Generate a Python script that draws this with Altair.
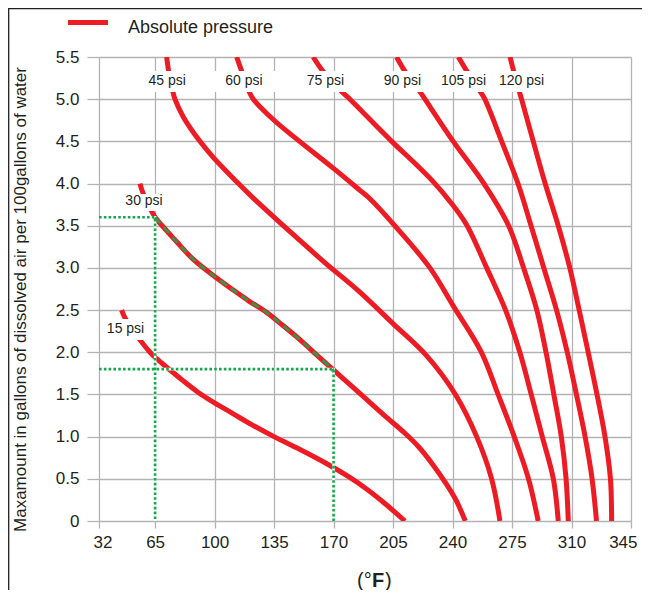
import altair as alt
import pandas as pd

RED = "#ed1c24"
GRID = "#b3b3b6"
INK = "#231f20"
FONT = "Liberation Sans, Arial, sans-serif"

# ---- curve data: temperature (°F) vs max dissolved air (gal / 100 gal water)
t15 = [45.3, 47.5, 56.0, 62.0, 65.5, 72.0, 81.0, 90.0, 100.0, 111.0, 122.0, 135.0, 150.0, 165.0, 180.0, 190.0, 200.0, 212.0]
v15 = [2.5, 2.4, 2.15, 2.0, 1.93, 1.82, 1.67, 1.53, 1.4, 1.27, 1.14, 1.0, 0.85, 0.69, 0.51, 0.37, 0.21, 0.0]

t30 = [56.1, 58.0, 63.0, 65.0, 77.7, 87.0, 97.3, 110.8, 120.0, 130.8, 140.0, 150.2, 160.0, 170.0, 180.0, 190.0, 200.0, 212.0, 220.0, 228.0, 236.0, 242.0, 247.5]
v30 = [4.0, 3.88, 3.67, 3.6, 3.31, 3.11, 2.94, 2.74, 2.61, 2.47, 2.32, 2.15, 1.97, 1.79, 1.61, 1.43, 1.25, 1.04, 0.88, 0.68, 0.45, 0.25, 0.0]

t45 = [71.8, 73.0, 75.7, 76.7, 81.6, 91.4, 99.2, 113.0, 122.6, 136.7, 150.0, 165.0, 184.5, 205.0, 224.7, 241.7, 254.2, 263.0, 267.9]
v45 = [5.5, 5.33, 5.07, 5.0, 4.79, 4.5, 4.31, 4.02, 3.83, 3.57, 3.33, 3.06, 2.73, 2.34, 1.96, 1.5, 1.0, 0.5, 0.0]

t60 = [113.0, 116.0, 120.8, 122.8, 135.0, 150.0, 170.0, 185.5, 191.4, 206.0, 226.7, 240.4, 257.0, 266.8, 276.3, 284.7, 290.4]
v60 = [5.5, 5.33, 5.07, 5.0, 4.75, 4.5, 4.18, 3.92, 3.82, 3.5, 3.0, 2.55, 2.0, 1.5, 1.0, 0.5, 0.0]

t75 = [158.0, 163.8, 174.7, 179.6, 185.5, 204.2, 218.9, 228.7, 238.0, 248.0, 260.1, 271.2, 279.6, 286.3, 292.8, 299.3, 302.2]
v75 = [5.5, 5.33, 5.09, 5.0, 4.88, 4.5, 4.22, 4.02, 3.8, 3.52, 3.0, 2.5, 2.0, 1.5, 1.0, 0.5, 0.0]

t90 = [207.1, 212.0, 220.8, 223.8, 240.4, 258.5, 273.0, 281.8, 289.6, 295.0, 299.6, 304.0, 306.8, 308.1]
v90 = [5.5, 5.33, 5.09, 5.0, 4.5, 4.0, 3.5, 3.0, 2.5, 2.0, 1.5, 1.0, 0.5, 0.0]

t105 = [243.4, 248.5, 256.3, 259.0, 268.9, 278.5, 286.2, 293.7, 301.2, 307.5, 312.9, 318.0, 322.1, 324.7]
v105 = [5.5, 5.33, 5.09, 5.0, 4.5, 4.0, 3.5, 3.0, 2.5, 2.0, 1.5, 1.0, 0.5, 0.0]

t120 = [273.8, 276.0, 279.6, 280.6, 287.5, 294.5, 302.2, 309.0, 314.5, 319.8, 325.0, 329.7, 332.9, 333.6]
v120 = [5.5, 5.33, 5.07, 5.0, 4.5, 4.0, 3.5, 3.0, 2.5, 2.0, 1.5, 1.0, 0.5, 0.0]

curve_names = ["15 psi", "30 psi", "45 psi", "60 psi", "75 psi", "90 psi", "105 psi", "120 psi"]
curve_t = [t15, t30, t45, t60, t75, t90, t105, t120]
curve_v = [v15, v30, v45, v60, v75, v90, v105, v120]

# curve labels (data coordinates)
label_names = ["45 psi", "60 psi", "75 psi", "90 psi", "105 psi", "120 psi", "30 psi", "15 psi"]
label_t = [72.1, 117.3, 165.2, 210.5, 246.5, 280.6, 58.5, 47.6]
label_v = [5.21, 5.21, 5.21, 5.21, 5.21, 5.21, 3.79, 2.27]

# white boxes behind labels
box_t0 = [60.8, 47.3, 36.1]
box_t1 = [296.1, 69.6, 59.6]
box_v0 = [5.085, 3.675, 2.146]
box_v1 = [5.334, 3.876, 2.394]

# green reading guides
guide_a_t = [32, 65, 65]
guide_a_v = [3.6, 3.6, 0.0]
guide_b_t = [32, 170, 170]
guide_b_v = [1.8, 1.8, 0.0]
highlight_range = [65, 170]

x_ticks = [32, 65, 100, 135, 170, 205, 240, 275, 310, 345]
y_ticks = [0, 0.5, 1.0, 1.5, 2.0, 2.5, 3.0, 3.5, 4.0, 4.5, 5.0, 5.5]

y_title = "Maxamount in gallons of dissolved air per 100gallons of water"
legend_text = "Absolute pressure"

# ---- build tables
rows = []
for name, ts, vs in zip(curve_names, curve_t, curve_v):
    for i, (t, v) in enumerate(zip(ts, vs)):
        rows.append({"curve": name, "i": i, "T": t, "v": v})
curves_df = pd.DataFrame(rows)
hl_df = curves_df[(curves_df.curve == "30 psi") & (curves_df["T"] >= highlight_range[0]) & (curves_df["T"] <= highlight_range[1])]

grows = []
for name, ts, vs in [("a", guide_a_t, guide_a_v), ("b", guide_b_t, guide_b_v)]:
    for i, (t, v) in enumerate(zip(ts, vs)):
        grows.append({"g": name, "i": i, "T": t, "v": v})
guides_df = pd.DataFrame(grows)

labels_df = pd.DataFrame({"label": label_names, "T": label_t, "v": label_v})
boxes_df = pd.DataFrame({"T": box_t0, "T2": box_t1, "v": box_v0, "v2": box_v1})
one = pd.DataFrame({"a": [0]})

xscale = alt.Scale(domain=[32, 345], nice=False, zero=False)
yscale = alt.Scale(domain=[0, 5.5], nice=False, zero=False)

xaxis = alt.Axis(values=x_ticks, grid=True, gridColor=GRID, gridWidth=1.3, domain=False,
                 ticks=True, tickColor=GRID, tickWidth=1.3, tickSize=7,
                 labelFont=FONT, labelFontSize=17, labelColor=INK, labelPadding=6,
                 labelFlush=True, labelFlushOffset=6,
                 title=None)
yaxis = alt.Axis(values=y_ticks, grid=True, gridColor=GRID, gridWidth=1.3, domain=False,
                 ticks=True, tickColor=GRID, tickWidth=1.3, tickSize=12,
                 labelFont=FONT, labelFontSize=17, labelColor=INK, labelPadding=8,
                 labelExpr="datum.value == 0 ? '0' : format(datum.value, '.1f')",
                 title=y_title, titleFont=FONT, titleFontSize=17, titleFontWeight="normal",
                 titleColor=INK, titleAngle=270, titleX=-79, titleY=242,
                 titleAlign="center", titleBaseline="middle")

X = alt.X("T:Q", scale=xscale, axis=xaxis)
Y = alt.Y("v:Q", scale=yscale, axis=yaxis)

lines = alt.Chart(curves_df).mark_line(color=RED, strokeWidth=5, interpolate="catmull-rom",
                                       clip=True, strokeCap="butt").encode(
    x=X, y=Y, detail="curve:N", order="i:Q")

guide_under = alt.Chart(guides_df).mark_line(color="white", strokeWidth=2.6).encode(
    x=X, y=Y, detail="g:N", order="i:Q")
guide = alt.Chart(guides_df).mark_line(color="#13a84b", strokeWidth=2.6,
                                       strokeDash=[2.6, 2.2]).encode(
    x=X, y=Y, detail="g:N", order="i:Q")
hl = alt.Chart(hl_df).mark_line(color="#2f9a47", strokeWidth=2.6, interpolate="catmull-rom",
                                strokeDash=[8, 5]).encode(x=X, y=Y, order="i:Q")

boxes = alt.Chart(boxes_df).mark_rect(color="white").encode(
    x=X, x2="T2:Q", y=Y, y2="v2:Q")

labels = alt.Chart(labels_df).mark_text(font=FONT, fontSize=14, color=INK,
                                        align="center", baseline="middle").encode(
    x=X, y=Y, text="label:N")

legend_line = alt.Chart(one).mark_rule(color=RED, strokeWidth=5).encode(
    x=alt.value(-31), x2=alt.value(9), y=alt.value(-34.5))
legend_lbl = alt.Chart(one).mark_text(font=FONT, fontSize=18, color=INK, align="left",
                                      baseline="alphabetic").encode(
    x=alt.value(29), y=alt.value(-24.5), text=alt.value(legend_text))

xt1 = alt.Chart(one).mark_text(font=FONT, fontSize=20, color=INK, align="left",
                               baseline="alphabetic").encode(
    x=alt.value(258), y=alt.value(530), text=alt.value("(°"))
xt2 = alt.Chart(one).mark_text(font=FONT, fontSize=20, color=INK, align="left",
                               baseline="alphabetic", fontWeight="bold").encode(
    x=alt.value(273), y=alt.value(530), text=alt.value("F"))
xt3 = alt.Chart(one).mark_text(font=FONT, fontSize=20, color=INK, align="left",
                               baseline="alphabetic").encode(
    x=alt.value(286), y=alt.value(530), text=alt.value(")"))

frame = alt.Chart(one).mark_rect(fillOpacity=0, stroke=INK, strokeWidth=1.3).encode(
    x=alt.value(-90.3), x2=alt.value(700), y=alt.value(-48.3), y2=alt.value(700))

chart = alt.layer(lines, guide_under, guide, hl, boxes, labels, legend_line, legend_lbl,
                  xt1, xt2, xt3, frame).properties(
    width=532, height=464,
    padding={"left": 91, "top": 49, "right": 11, "bottom": 69},
    autosize=alt.AutoSizeParams(type="none"),
    background="white",
).configure_view(stroke=None)

chart.save("out.html", embed_options={"renderer": "svg", "actions": False})
